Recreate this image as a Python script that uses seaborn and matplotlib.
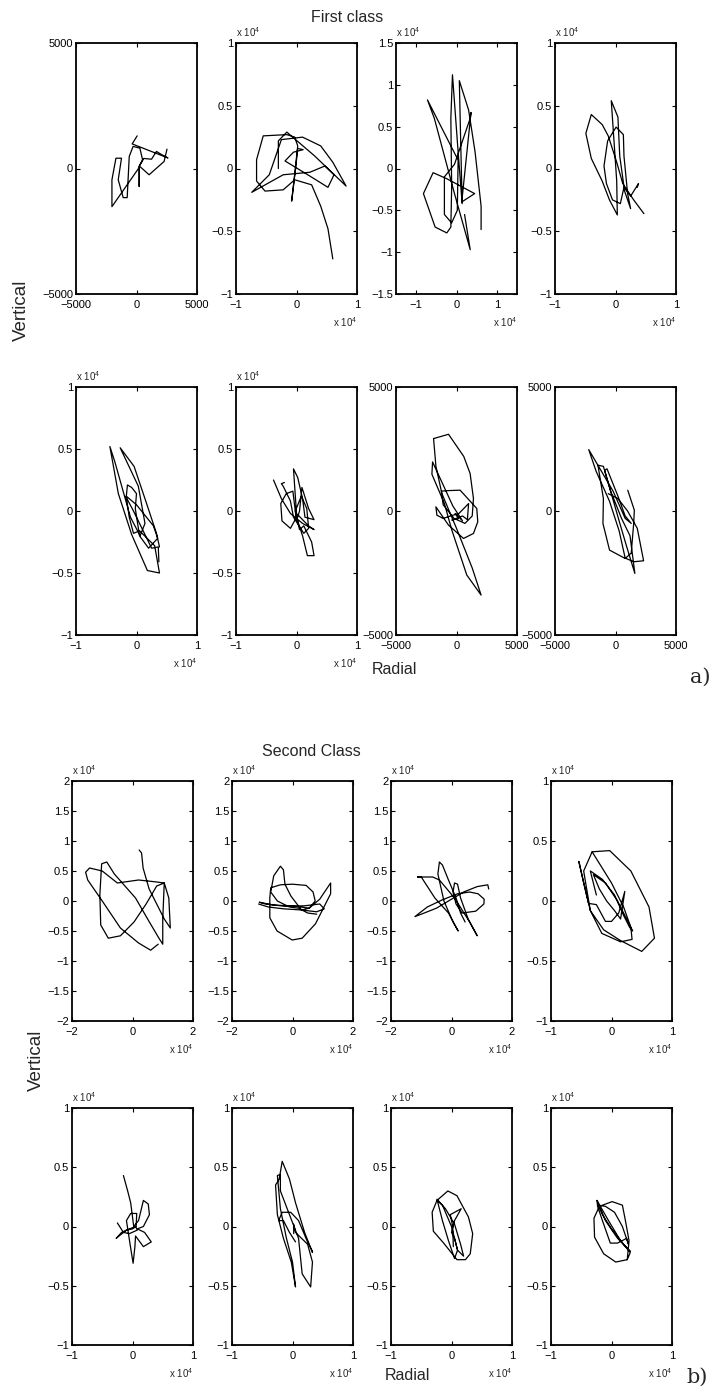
import matplotlib
matplotlib.use("Agg")
import matplotlib.pyplot as plt
import seaborn as sns

# ---------------------------------------------------------------------------
# Radial / vertical trajectories, one list of (radial, vertical) points each.
# Panels marked "scaled" are stored in units of 1e4.
# ---------------------------------------------------------------------------
first_1 = [(2520, 770), (2280, 280), (1040, -250), (280, 80), (-2030, -1520), (-2030, -450),
           (-1700, 410), (-1240, 410), (-1510, -450), (-1100, -1160), (-770, -1160), (-600, 480),
           (-280, 880), (280, 810), (500, 350), (230, 100), (220, -720), (220, 80), (600, 400),
           (1240, 370), (1650, 680), (2050, 560), (2600, 420), (-360, 980), (55, 1300)]
first_2 = [(-0.30, 0.00), (-0.30, 0.22), (-0.16, 0.29), (0.30, 0.10), (0.82, -0.14), (0.60, 0.05),
           (0.40, 0.18), (0.10, 0.25), (-0.25, 0.23), (-0.45, -0.05), (-0.74, -0.19), (-0.22, -0.05),
           (0.22, -0.03), (0.47, 0.02), (0.62, -0.05), (0.52, -0.15), (0.22, -0.06), (-0.19, 0.06),
           (-0.05, 0.13), (0.11, 0.15), (0.02, 0.16), (-0.01, 0.02), (-0.08, -0.26), (-0.04, -0.09),
           (0.02, 0.18), (-0.03, 0.25), (-0.16, 0.27), (-0.55, 0.26), (-0.66, 0.07), (-0.66, -0.10),
           (-0.52, -0.18), (-0.22, -0.17), (-0.03, -0.09), (0.25, -0.13), (0.40, -0.30), (0.52, -0.48),
           (0.60, -0.72)]
first_3 = [(0.61, -0.73), (0.61, -0.45), (0.46, 0.20), (0.30, 0.70), (0.07, 1.05), (0.10, 0.40),
           (0.14, -0.42), (0.04, 0.20), (-0.10, 1.12), (-0.14, 0.60), (-0.12, -0.22), (-0.14, -0.70),
           (-0.24, -0.77), (-0.53, -0.70), (-0.82, -0.30), (-0.58, -0.05), (-0.25, -0.12), (0.45, -0.30),
           (0.13, -0.40), (0.36, 0.67), (0.34, 0.60), (-0.05, 0.05), (-0.30, -0.10), (-0.30, -0.55),
           (-0.12, -0.65), (0.02, -0.50), (0.04, 0.10), (-0.72, 0.82), (-0.55, 0.60), (-0.05, -0.30),
           (0.34, -0.97), (0.20, -0.55)]
first_4 = [(0.47, -0.36), (0.30, -0.25), (0.12, -0.12), (0.02, 0.05), (-0.12, 0.26), (-0.22, 0.35),
           (-0.40, 0.43), (-0.49, 0.28), (-0.40, 0.08), (-0.22, -0.10), (-0.10, -0.25), (0.03, -0.37),
           (0.02, -0.10), (-0.07, 0.54), (0.04, 0.41), (0.07, 0.10), (0.15, -0.18), (0.25, -0.32),
           (0.20, -0.20), (0.14, 0.10), (0.13, 0.27), (0.01, 0.33), (-0.13, 0.22), (-0.19, 0.02),
           (-0.15, -0.12), (-0.05, -0.25), (0.08, -0.28), (0.14, -0.15), (0.25, -0.22), (0.38, -0.12),
           (0.36, -0.15)]
first_5 = [(0.37, -0.41), (0.36, -0.29), (0.25, -0.30), (0.10, -0.15), (-0.05, 0.00), (-0.17, 0.11),
           (-0.15, 0.21), (-0.08, 0.19), (0.00, 0.14), (-0.02, 0.02), (0.05, -0.20), (0.20, -0.30),
           (0.35, -0.22), (0.28, -0.12), (0.00, 0.05), (-0.17, 0.12), (-0.12, -0.05), (-0.05, -0.18),
           (0.05, -0.16), (0.30, -0.28), (0.38, -0.50), (0.18, -0.48), (-0.08, -0.19), (-0.30, 0.14),
           (-0.44, 0.52), (-0.36, 0.40), (-0.10, -0.05), (0.06, -0.20), (0.14, -0.10), (0.03, 0.20),
           (-0.27, 0.51), (-0.04, 0.36), (0.16, 0.07), (0.33, -0.18), (0.38, -0.29)]
first_6 = [(-0.38, 0.25), (-0.25, 0.10), (-0.10, -0.02), (0.10, -0.10), (0.29, -0.15), (0.20, -0.12),
           (0.00, -0.02), (-0.05, 0.34), (0.02, 0.27), (0.10, 0.10), (0.14, -0.05), (0.29, -0.07),
           (0.20, 0.02), (0.09, 0.19), (0.05, 0.00), (0.00, -0.08), (-0.06, 0.16), (-0.17, 0.14),
           (-0.26, 0.06), (-0.24, -0.08), (-0.10, -0.14), (0.00, -0.05), (0.10, -0.20), (0.18, -0.36),
           (0.29, -0.36), (0.25, -0.25), (0.12, -0.12), (0.05, -0.15), (-0.02, 0.00), (0.08, 0.12),
           (0.17, 0.02), (0.20, -0.14), (0.12, -0.18), (-0.05, -0.05), (-0.10, 0.08), (-0.22, 0.20),
           (-0.25, 0.22), (-0.20, 0.23)]
first_7 = [(-1896, 2920), (-659, 3094), (600, 2200), (1126, 1510), (1401, 503), (1300, -200),
           (700, -500), (-200, -300), (-1100, 250), (-1250, 800), (-800, 820), (300, 840),
           (1676, 101), (1758, -436), (1401, -906), (577, -1107), (-659, -570), (-1703, 168),
           (-1621, -168), (-1100, -300), (-500, -200), (200, -100), (1000, 300), (900, -350),
           (500, -200), (-385, -369), (165, -302), (-110, -101), (494, -396), (-300, 200),
           (-1978, 1980), (-2033, 1483), (-1000, 300), (-385, -772), (852, -2584), (2033, -3390),
           (1300, -2300), (0, -700), (-1209, 705), (-1700, 1800), (-1896, 2920)]
first_8 = [(1011, 839), (1557, 34), (1503, -500), (1300, -1700), (800, -1913), (-492, -1577),
           (-1038, -503), (-1000, 500), (-1448, 1846), (-1000, 1800), (-400, 800), (500, -300),
           (1200, -1000), (1600, -2517), (900, -1400), (300, -400), (-902, 1645), (-700, 1700),
           (200, 600), (800, -200), (1300, -500), (800, -300), (-200, 800), (-2213, 2477),
           (-1600, 1600), (-500, 400), (300, -800), (800, -1900), (1503, -2047), (2322, -2007),
           (1800, -700), (1000, 0), (200, 500), (-600, 700)]

second_1 = [(0.22, 0.85), (0.30, 0.80), (0.35, 0.55), (0.55, 0.20), (0.80, -0.05), (1.05, -0.30),
            (1.25, -0.45), (1.20, 0.05), (1.05, 0.30), (0.80, 0.25), (0.45, -0.05), (0.05, -0.35),
            (-0.40, -0.58), (-0.80, -0.62), (-1.05, -0.40), (-1.08, 0.10), (-1.02, 0.62), (-0.85, 0.65),
            (-0.60, 0.45), (-0.25, 0.25), (0.10, 0.05), (0.50, -0.30), (0.85, -0.60), (1.00, -0.72),
            (1.00, -0.30), (1.05, 0.30), (0.75, 0.32), (0.20, 0.35), (-0.50, 0.30), (-1.00, 0.50),
            (-1.42, 0.55), (-1.55, 0.48), (-1.48, 0.35), (-1.00, 0.00), (-0.40, -0.45), (0.20, -0.70),
            (0.60, -0.82), (0.85, -0.72)]
second_2 = [(-1.12, -0.05), (-0.80, -0.10), (-0.30, -0.13), (0.30, -0.15), (0.80, -0.18), (1.05, -0.13),
            (0.90, -0.05), (0.40, -0.08), (-0.20, -0.09), (-0.90, -0.05), (-1.10, -0.02), (-0.60, -0.07),
            (0.00, -0.08), (0.55, -0.12), (0.75, 0.00), (0.68, 0.15), (0.45, 0.26), (0.00, 0.28),
            (-0.40, 0.27), (-0.72, 0.22), (-0.75, 0.05), (-0.75, -0.28), (-0.51, -0.50), (-0.01, -0.65),
            (0.32, -0.62), (0.76, -0.38), (1.26, 0.12), (1.26, 0.30), (0.90, 0.03), (0.55, -0.12),
            (0.30, -0.15), (-0.05, 0.08), (-0.25, 0.28), (-0.30, 0.52), (-0.40, 0.58), (-0.62, 0.42),
            (-0.72, 0.15), (-0.50, 0.00), (-0.10, -0.10), (0.20, -0.12), (0.50, -0.20), (0.80, -0.22)]
second_3 = [(1.23, 0.20), (1.20, 0.27), (0.85, 0.24), (0.40, 0.15), (-0.10, 0.00), (-0.50, -0.12),
            (-1.00, -0.22), (-1.21, -0.26), (-0.80, -0.10), (-0.30, 0.02), (0.20, 0.12), (0.60, 0.15),
            (0.88, 0.12), (1.08, 0.03), (1.07, -0.05), (0.80, -0.17), (0.35, -0.20), (0.15, -0.05),
            (0.05, 0.15), (0.10, 0.30), (0.20, 0.28), (0.30, 0.05), (0.55, -0.30), (0.85, -0.58),
            (0.60, -0.35), (0.10, 0.05), (-0.40, 0.35), (-0.62, 0.40), (-1.12, 0.40), (-1.00, 0.40),
            (-0.55, 0.05), (-0.10, -0.20), (0.22, -0.50), (0.05, -0.35), (-0.25, 0.00), (-0.45, 0.45),
            (-0.40, 0.65), (-0.30, 0.60), (-0.10, 0.35), (0.15, 0.05), (0.30, -0.20), (0.45, -0.35)]
second_4 = [(-0.25, 0.05), (-0.35, 0.25), (-0.32, 0.24), (-0.15, 0.18), (0.05, 0.05), (0.20, -0.12),
            (0.30, -0.22), (0.35, -0.25), (0.25, -0.15), (0.10, 0.00), (-0.10, 0.15), (-0.30, 0.22),
            (-0.20, 0.10), (-0.08, 0.00), (0.05, -0.08), (0.15, -0.15), (0.22, 0.08), (0.12, -0.10),
            (0.00, -0.17), (-0.10, -0.17), (-0.25, -0.03), (-0.38, -0.02), (-0.54, 0.33), (-0.46, 0.15),
            (-0.35, -0.08), (-0.16, -0.27), (0.15, -0.34), (0.34, -0.32), (0.32, -0.22), (0.20, -0.05),
            (0.00, 0.15), (-0.32, 0.41), (-0.03, 0.42), (0.32, 0.25), (0.62, -0.05), (0.71, -0.31),
            (0.50, -0.42), (0.15, -0.33), (-0.13, -0.24), (-0.35, -0.08), (-0.46, 0.25), (-0.32, 0.41)]
second_5 = [(-0.15, 0.43), (-0.08, 0.30), (-0.03, 0.20), (0.02, 0.00), (0.10, 0.05), (0.18, 0.22),
            (0.26, 0.19), (0.28, 0.10), (0.18, 0.00), (0.08, -0.02), (0.20, -0.05), (0.31, -0.13),
            (0.18, -0.17), (0.05, -0.08), (0.04, -0.17), (0.01, -0.31), (-0.04, -0.15), (-0.10, 0.05),
            (-0.03, 0.11), (0.07, 0.11), (0.06, 0.00), (0.00, -0.02), (-0.10, -0.03), (-0.27, -0.10),
            (-0.18, -0.05), (-0.05, -0.02), (0.05, 0.00), (0.08, -0.03), (-0.05, -0.06), (-0.15, -0.05),
            (-0.25, 0.03)]
second_6 = [(0.05, -0.13), (-0.05, -0.05), (-0.15, 0.05), (-0.23, 0.05), (-0.17, 0.12), (-0.03, 0.12),
            (0.10, 0.05), (0.24, -0.12), (0.33, -0.21), (0.33, -0.22), (0.20, -0.05), (0.05, 0.20),
            (-0.05, 0.40), (-0.17, 0.55), (-0.22, 0.40), (-0.28, 0.35), (-0.25, 0.10), (-0.15, -0.10),
            (-0.02, -0.30), (0.05, -0.51), (0.00, -0.30), (-0.10, -0.10), (-0.20, 0.15), (-0.25, 0.43),
            (-0.20, 0.44), (-0.20, 0.30), (-0.05, 0.10), (0.10, -0.10), (0.16, -0.40), (0.30, -0.51),
            (0.33, -0.30), (0.25, -0.15), (0.05, -0.05), (0.02, 0.02), (0.02, -0.06)]
second_7 = [(0.03, -0.17), (0.02, 0.00), (-0.02, 0.10), (0.16, 0.15), (0.05, 0.05), (0.00, -0.05),
            (0.05, -0.10), (0.10, -0.20), (0.20, -0.25), (0.15, -0.15), (0.05, 0.02), (-0.10, 0.15),
            (-0.24, 0.23), (-0.15, 0.05), (-0.05, -0.12), (0.05, -0.27), (0.10, -0.20), (0.00, 0.00),
            (-0.15, 0.18), (-0.24, 0.22), (-0.32, 0.12), (-0.30, -0.04), (-0.13, -0.14), (0.09, -0.28),
            (0.23, -0.28), (0.31, -0.23), (0.35, -0.06), (0.28, 0.08), (0.09, 0.26), (-0.06, 0.30),
            (-0.24, 0.22)]
second_8 = [(-0.24, 0.22), (-0.10, 0.05), (0.10, -0.10), (0.31, -0.21), (0.20, -0.15), (0.00, -0.02),
            (-0.15, 0.10), (-0.22, 0.18), (-0.10, 0.17), (0.05, 0.12), (0.18, 0.00), (0.28, -0.15),
            (0.25, -0.10), (0.10, -0.14), (-0.02, -0.14), (-0.15, 0.05), (-0.23, 0.17), (-0.24, 0.22),
            (-0.05, 0.05), (0.15, -0.12), (0.31, -0.22), (0.26, -0.28), (0.07, -0.30), (-0.13, -0.23),
            (-0.28, -0.09), (-0.29, 0.07), (-0.20, 0.17), (0.01, 0.21), (0.18, 0.18), (0.23, 0.05),
            (0.29, -0.12), (0.26, -0.28)]

first_class = [first_1, first_2, first_3, first_4, first_5, first_6, first_7, first_8]
second_class = [second_1, second_2, second_3, second_4, second_5, second_6, second_7, second_8]

# axis half-ranges per panel and whether the panel is expressed in units of 1e4
first_half = [5000, 1, 1.5, 1, 1, 1, 5000, 5000]
first_scaled = [False, True, True, True, True, True, False, False]
second_half = [2, 2, 2, 1, 1, 1, 1, 1]
second_scaled = [True] * 8

x_tick_sets = {5000: [-5000, 0, 5000], 2: [-2, 0, 2], 1.5: [-1, 0, 1], 1: [-1, 0, 1]}
y_tick_sets = {5000: [-5000, 0, 5000],
               2: [-2, -1.5, -1, -0.5, 0, 0.5, 1, 1.5, 2],
               1.5: [-1.5, -1, -0.5, 0, 0.5, 1, 1.5],
               1: [-1, -0.5, 0, 0.5, 1]}

# ---------------------------------------------------------------------------
sns.set_theme(style="ticks")
plt.rcParams["font.family"] = ["Liberation Sans", "DejaVu Sans"]
plt.rcParams["mathtext.fontset"] = "custom"
plt.rcParams["mathtext.rm"] = "Liberation Sans"

W, H = 715, 1397
fig = plt.figure(figsize=(W / 100, H / 100), dpi=100)
fig.patch.set_facecolor("white")


def label(v):
    s = "%g" % v
    return s.replace("-", "\u2212")


def panel(left, top, bottom, pts, half, scaled):
    ax = fig.add_axes([left / W, 1 - bottom / H, 121 / W, (bottom - top) / H])
    xs = [p[0] for p in pts]
    ys = [p[1] for p in pts]
    sns.lineplot(x=xs, y=ys, sort=False, estimator=None, color="black",
                 linewidth=0.9, ax=ax, legend=False)
    ax.set_xlim(-half, half)
    ax.set_ylim(-half, half)
    xt = x_tick_sets[half]
    yt = y_tick_sets[half]
    ax.set_xticks(xt)
    ax.set_xticklabels([label(v) for v in xt])
    ax.set_yticks(yt)
    ax.set_yticklabels([label(v) for v in yt])
    ax.tick_params(direction="in", top=True, right=True, length=3, width=0.8,
                   labelsize=8, colors="black")
    ax.tick_params(axis="x", pad=4)
    ax.tick_params(axis="y", pad=2)
    ax.set_xlabel("")
    ax.set_ylabel("")
    for sp in ax.spines.values():
        sp.set_visible(True)
        sp.set_color("black")
        sp.set_linewidth(1.3)
    ax.set_facecolor("white")
    if scaled:
        ax.annotate(r"x 10$^\mathregular{4}$", xy=(0, 1), xycoords="axes fraction",
                    xytext=(0, 3), textcoords="offset points", ha="left", va="bottom",
                    fontsize=7)
        ax.annotate(r"x 10$^\mathregular{4}$", xy=(1, 0), xycoords="axes fraction",
                    xytext=(0, -15), textcoords="offset points", ha="right", va="top",
                    fontsize=7)
    return ax


# panel a): first class
tops_a = [43, 387]
bottoms_a = [294, 635]
lefts_a = [76, 236, 396, 555]
for i, pts in enumerate(first_class):
    r, c = divmod(i, 4)
    panel(lefts_a[c], tops_a[r], bottoms_a[r], pts, first_half[i], first_scaled[i])

# panel b): second class
tops_b = [781, 1108]
bottoms_b = [1021, 1345]
lefts_b = [72, 232, 391, 551]
for i, pts in enumerate(second_class):
    r, c = divmod(i, 4)
    panel(lefts_b[c], tops_b[r], bottoms_b[r], pts, second_half[i], second_scaled[i])


def ftext(x, y, s, **kw):
    fig.text(x / W, 1 - y / H, s, ha="center", va="center", **kw)


ftext(347, 17, "First class", fontsize=11.5)
ftext(21, 310, "Vertical", fontsize=13.5, rotation=90)
ftext(394, 670, "Radial", fontsize=11.5)
ftext(700, 677, "a)", fontsize=15, family="DejaVu Serif")

ftext(311, 752, "Second Class", fontsize=11.5)
ftext(36, 1060, "Vertical", fontsize=13.5, rotation=90)
ftext(407, 1376, "Radial", fontsize=11.5)
ftext(697, 1377, "b)", fontsize=15, family="DejaVu Serif")

fig.savefig("out.png", dpi=100, facecolor="white")
